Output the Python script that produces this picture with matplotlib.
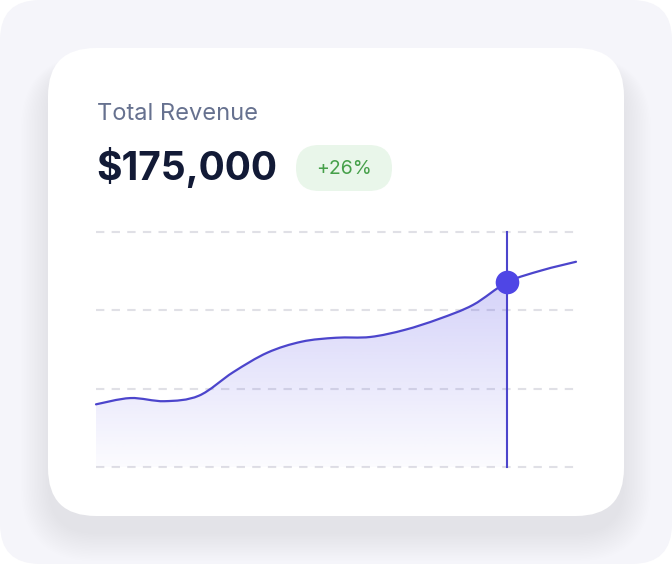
import numpy as np
import matplotlib
matplotlib.use("Agg")
import matplotlib.pyplot as plt
from matplotlib.patches import FancyBboxPatch, PathPatch
from matplotlib.path import Path

# ---- data ----
periods = list(range(15))
revenue = [0.80, 0.88, 0.84, 0.91, 1.21, 1.46, 1.60, 1.65, 1.66, 1.75, 1.89, 2.07, 2.36, 2.51, 2.62]
grid_levels = [0, 1, 2, 3]
highlight_index = 12
title = "Total Revenue"
amount = "$175,000"
change = "+26%"

W, H = 672, 564
fig = plt.figure(figsize=(W / 100, H / 100), dpi=100)
fig.patch.set_facecolor("white")

bg = fig.add_axes([0, 0, 1, 1])
bg.set_xlim(0, W)
bg.set_ylim(H, 0)
bg.axis("off")

# outer panel
bg.add_patch(FancyBboxPatch((0, 0), W, H, boxstyle="round,pad=0,rounding_size=40",
                            fc="#f5f5fa", ec="none"))
# soft shadow
n = 18
for i in range(n):
    r = i * 1.6
    bg.add_patch(FancyBboxPatch((48 - r, 48 + 18 - r * 0.4), 576 + 2 * r, 468 + 1.4 * r,
                                boxstyle="round,pad=0,rounding_size=%f" % (48 + r),
                                fc="#5c5c9c", ec="none", alpha=0.005))
# card
bg.add_patch(FancyBboxPatch((48, 48), 576, 468, boxstyle="round,pad=0,rounding_size=48",
                            fc="white", ec="none"))

bg.text(97, 120, title, fontsize=17, color="#66718f", family=["Inter", "DejaVu Sans"],
        va="baseline", ha="left")
bg.text(96, 180, amount, fontsize=28, weight="bold", color="#121a36",
        family=["Inter", "DejaVu Sans"], va="baseline", ha="left")
bg.add_patch(FancyBboxPatch((296, 145), 96, 46, boxstyle="round,pad=0,rounding_size=23",
                            fc="#e9f6ea", ec="none"))
bg.text(344, 168.5, change, fontsize=14, color="#46a04a", family=["Inter", "DejaVu Sans"],
        ha="center", va="center")

# ---- chart ----
ax = fig.add_axes([96 / W, (H - 467) / H, 480 / W, 235 / H])
ax.set_xlim(periods[0], periods[-1])
ax.set_ylim(grid_levels[0], grid_levels[-1])
ax.axis("off")
ax.patch.set_alpha(0)

for g in grid_levels:
    ax.axhline(g, color="#e0e0e6", lw=1.5, ls=(0, (4, 3.5)), clip_on=False, zorder=1)


def smooth_path(xs, ys):
    xs = np.asarray(xs, float)
    ys = np.asarray(ys, float)
    n = len(xs)
    verts = [(xs[0], ys[0])]
    codes = [Path.MOVETO]
    for i in range(n - 1):
        i0 = max(i - 1, 0)
        i3 = min(i + 2, n - 1)
        c1 = (xs[i] + (xs[i + 1] - xs[i0]) / 6, ys[i] + (ys[i + 1] - ys[i0]) / 6)
        c2 = (xs[i + 1] - (xs[i3] - xs[i]) / 6, ys[i + 1] - (ys[i3] - ys[i]) / 6)
        verts += [c1, c2, (xs[i + 1], ys[i + 1])]
        codes += [Path.CURVE4] * 3
    return verts, codes


verts, codes = smooth_path(periods, revenue)
line_path = Path(verts, codes)
ax.add_patch(PathPatch(line_path, fc="none", ec="#4c45cc", lw=1.6, zorder=4,
                       capstyle="round", clip_on=False))

k = highlight_index
fverts = verts[:1 + 3 * k] + [(periods[k], grid_levels[0]), (periods[0], grid_levels[0]),
                              (periods[0], revenue[0])]
fcodes = codes[:1 + 3 * k] + [Path.LINETO, Path.LINETO, Path.CLOSEPOLY]
fill_patch = PathPatch(Path(fverts, fcodes), fc="none", ec="none")
ax.add_patch(fill_patch)

grad = np.zeros((256, 1, 4))
grad[..., 0] = 79 / 255
grad[..., 1] = 70 / 255
grad[..., 2] = 229 / 255
grad[:, 0, 3] = np.linspace(0.02, 0.30, 256)
im = ax.imshow(grad, extent=[periods[0], periods[-1], grid_levels[0], grid_levels[-1]],
               origin="lower", aspect="auto", zorder=2, interpolation="bilinear")
im.set_clip_path(fill_patch)

ax.plot([periods[k], periods[k]], [grid_levels[0], grid_levels[-1]], color="#4c45cc",
        lw=1.5, zorder=3, clip_on=False)
ax.plot([periods[k]], [revenue[k]], "o", ms=17, color="#4f46e5", mec="none",
        zorder=6, clip_on=False)

fig.savefig("out.png", dpi=100, facecolor="white")
